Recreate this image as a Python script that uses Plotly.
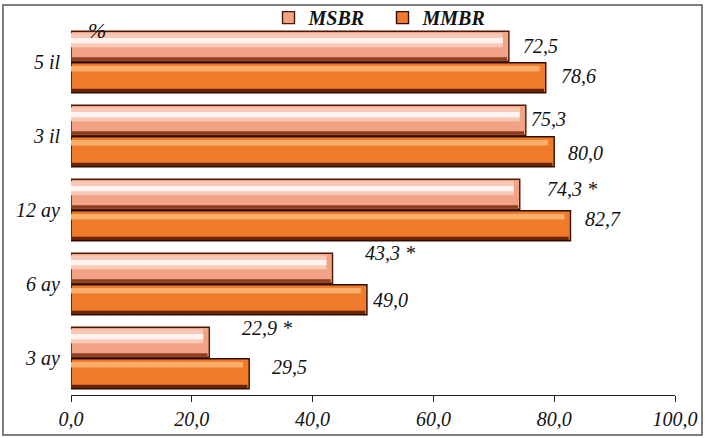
import plotly.graph_objects as go

# Categories listed bottom to top
categories = ["3 ay", "6 ay", "12 ay", "3 il", "5 il"]
msbr = [22.9, 43.3, 74.3, 75.3, 72.5]
mmbr = [29.5, 49.0, 82.7, 80.0, 78.6]
msbr_marked = [True, True, True, False, False]
x_ticks = [0, 20, 40, 60, 80, 100]

SERIF = "Liberation Serif"
FS = 20

def fmt(v, star=False):
    s = f"{v:.1f}".replace(".", ",")
    return s + " *" if star else s

fig = go.Figure()

BAR_W = 0.405
fig.add_trace(go.Bar(
    y=categories, x=msbr, orientation="h", name="MSBR",
    width=BAR_W, offset=0.01,
    marker=dict(color="#F2A386", line=dict(color="#4A1A06", width=1.4)),
))
fig.add_trace(go.Bar(
    y=categories, x=mmbr, orientation="h", name="MMBR",
    width=BAR_W, offset=-0.415,
    marker=dict(color="#EF7B2B", line=dict(color="#2E0E00", width=1.4)),
))

# bevel shading strips
def strip(values, offset, width, color, trim=1.0):
    fig.add_trace(go.Bar(
        y=categories, x=[v - trim for v in values], orientation="h",
        showlegend=False, hoverinfo="skip", width=width, offset=offset,
        marker=dict(color=color, line=dict(width=0)),
    ))

strip(msbr, 0.20, 0.19, "#F8C9B6")
strip(msbr, 0.255, 0.07, "#FFF4EF")
strip(msbr, 0.02, 0.045, "#8E3E1F", trim=0.3)
strip(mmbr, -0.13, 0.075, "#FAAE6C")
strip(mmbr, -0.405, 0.045, "#6A2404", trim=0.3)

# value labels (pixel offsets relative to bar end / category centre)
msbr_dx = [31, 30, 25, 3, 12]
msbr_dy = [30, 31, 21, 17, 16]
mmbr_dx = [21, 4, 12, 12, 13]
mmbr_dy = [-9, -16, -9, -17, -14]

label_font = dict(family=SERIF, size=FS, color="#111", style="italic")
annotations = []
for i, c in enumerate(categories):
    annotations.append(dict(
        x=msbr[i], y=c, xref="x", yref="y", text=fmt(msbr[i], msbr_marked[i]),
        showarrow=False, xanchor="left", yanchor="middle",
        xshift=msbr_dx[i], yshift=msbr_dy[i], font=label_font,
    ))
    annotations.append(dict(
        x=mmbr[i], y=c, xref="x", yref="y", text=fmt(mmbr[i]),
        showarrow=False, xanchor="left", yanchor="middle",
        xshift=mmbr_dx[i], yshift=mmbr_dy[i], font=label_font,
    ))
annotations.append(dict(
    x=0.043, y=0.985, xref="paper", yref="paper", text="%", showarrow=False,
    xanchor="center", yanchor="middle", font=dict(label_font, size=22),
))

fig.update_layout(
    width=705, height=438,
    margin=dict(l=71, r=30, t=25, b=43, autoexpand=False),
    paper_bgcolor="white", plot_bgcolor="white",
    barmode="overlay",
    separators=",.",
    showlegend=True,
    legend=dict(
        orientation="h", x=0.327, y=1.02, xanchor="left", yanchor="middle",
        font=dict(family=SERIF, size=FS, color="#111", style="italic", weight="bold"),
        bgcolor="rgba(0,0,0,0)", itemwidth=30, entrywidth=69,
    ),
    xaxis=dict(
        range=[0, 100], tickvals=x_ticks, tickformat=".1f",
        showgrid=False, zeroline=False,
        showline=True, linecolor="#222", linewidth=1,
        ticks="outside", ticklen=6, tickcolor="#222",
        tickfont=label_font,
    ),
    yaxis=dict(
        categoryorder="array", categoryarray=categories,
        showgrid=False, zeroline=False, showline=False, ticks="",
        ticklabelstandoff=10, tickfont=label_font,
    ),
    annotations=annotations,
    shapes=[dict(
        type="rect", xref="paper", yref="paper",
        x0=-0.1126, x1=1.0447, y0=-0.108, y1=1.054,
        line=dict(color="#555", width=1.5), fillcolor="rgba(0,0,0,0)", layer="below",
    )],
)

fig.write_html("out.html")
